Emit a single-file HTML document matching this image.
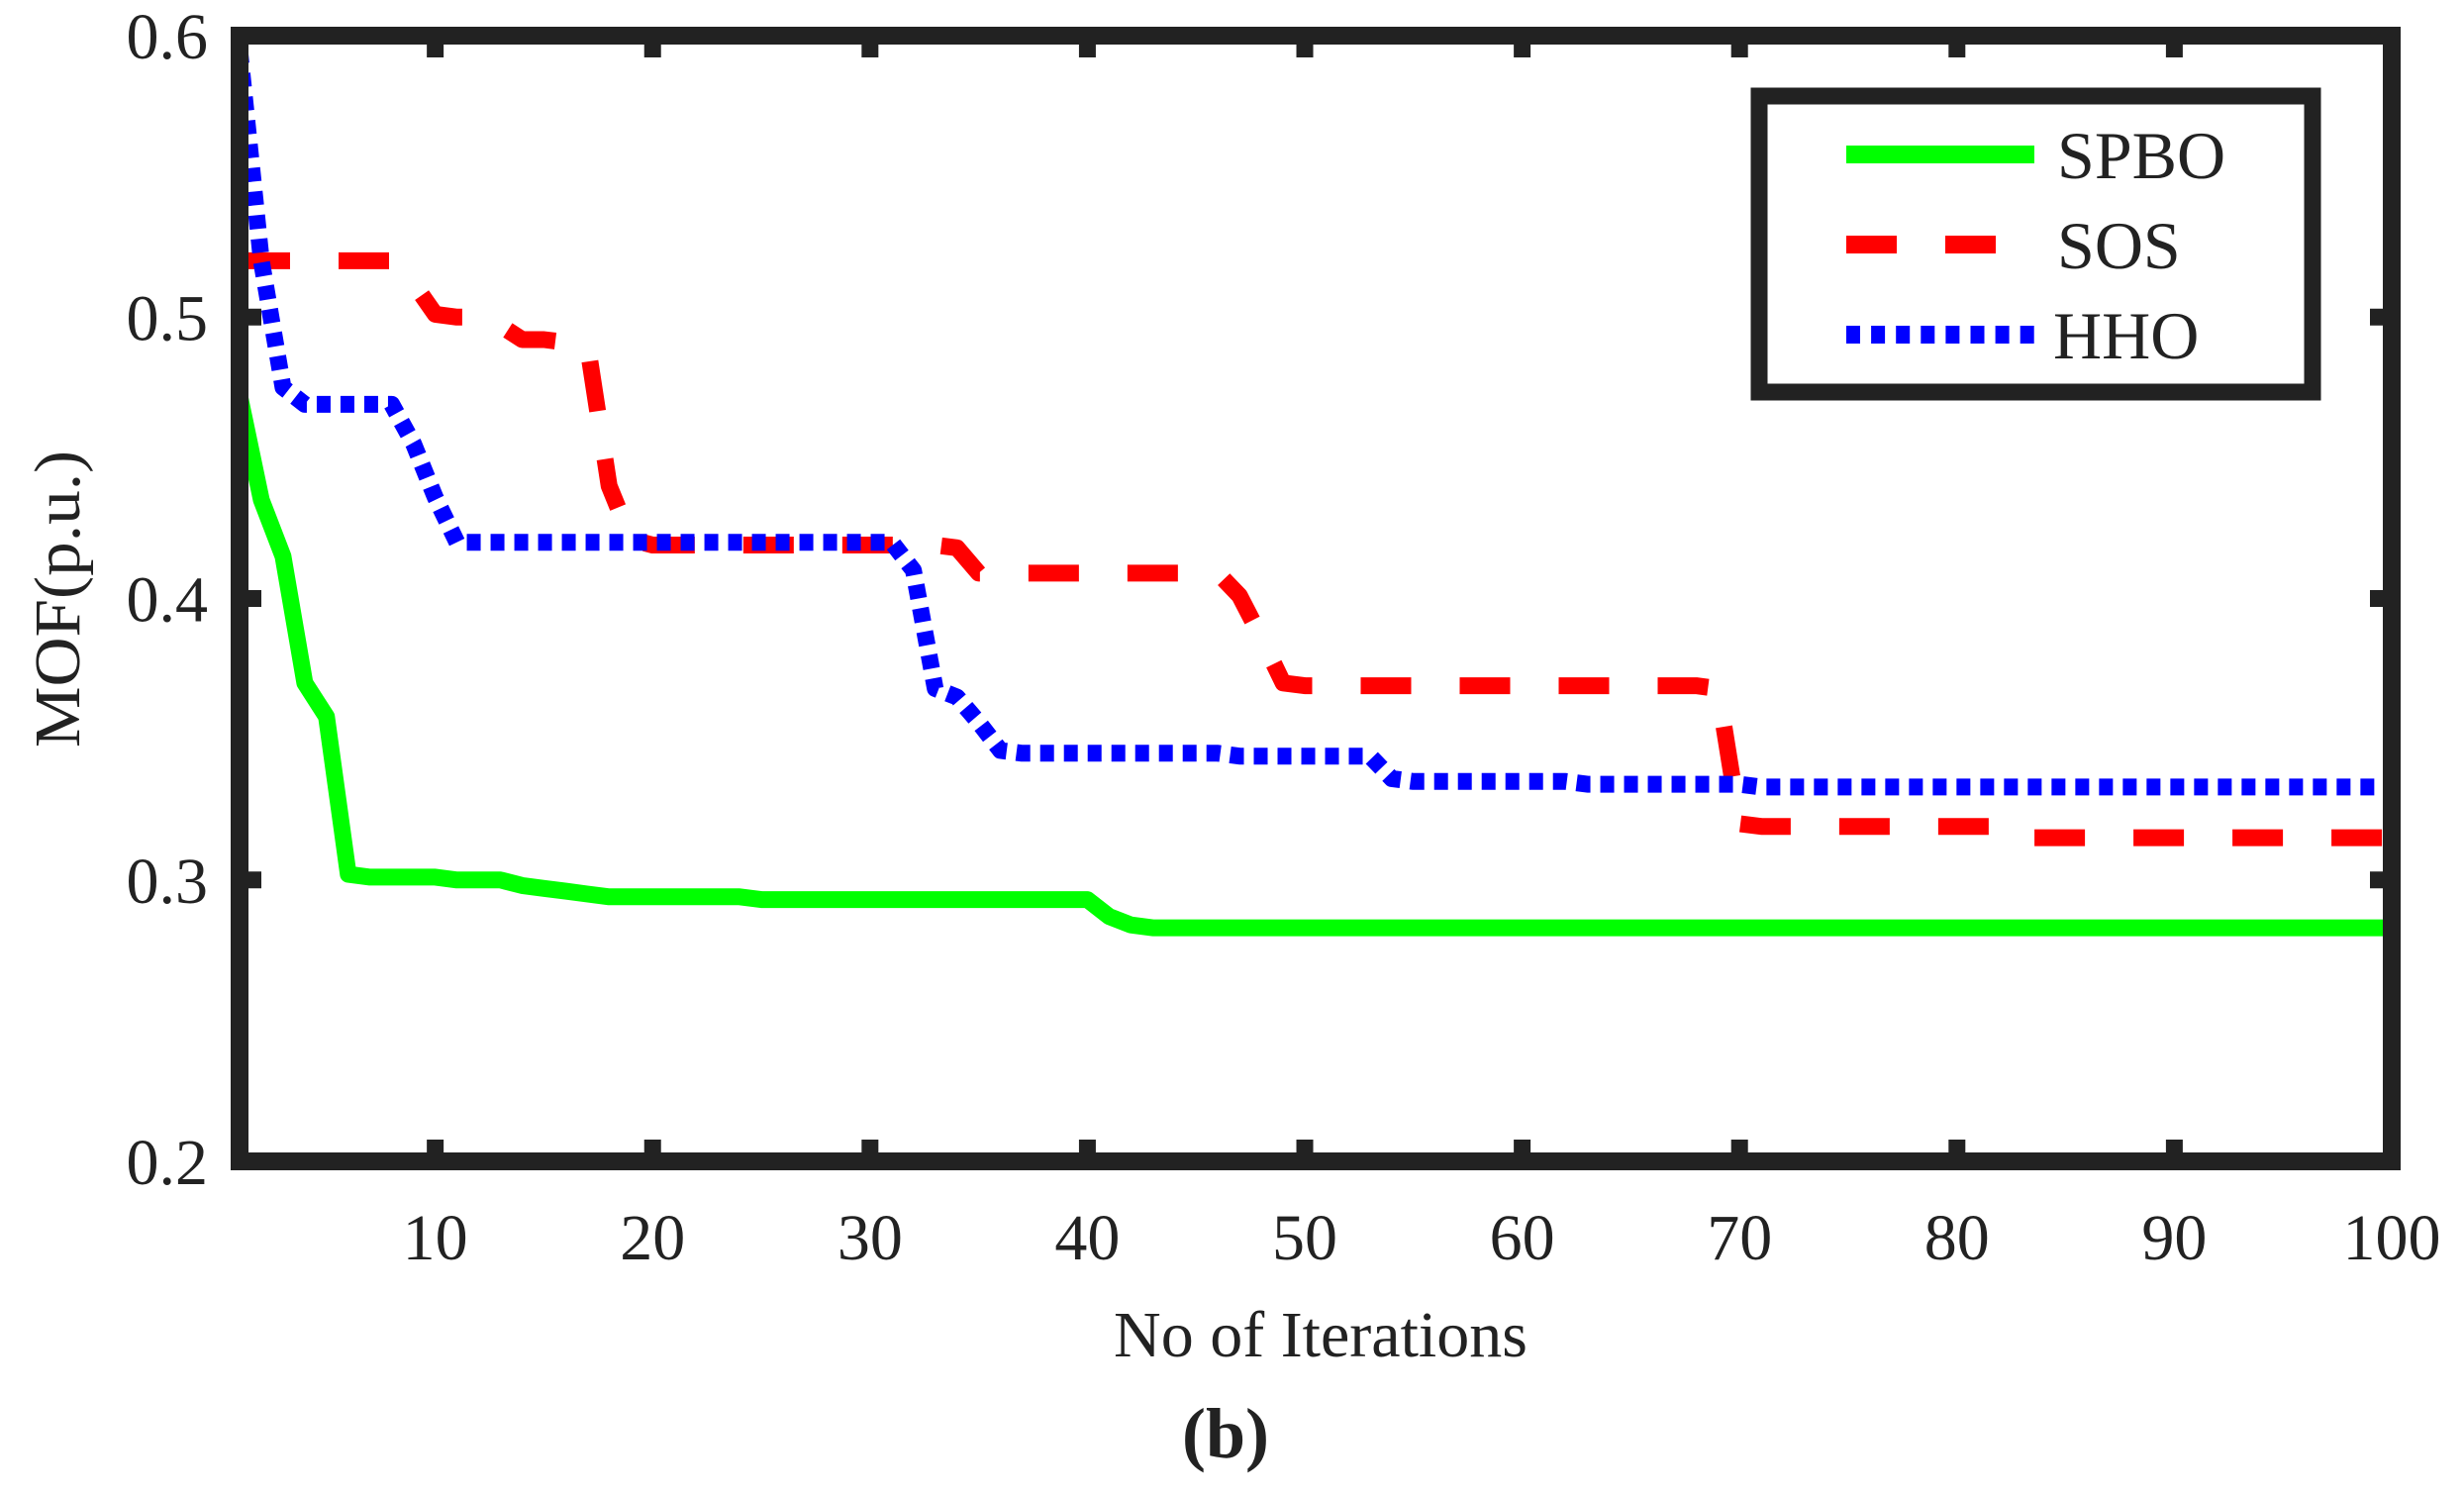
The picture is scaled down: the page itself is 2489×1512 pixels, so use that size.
<!DOCTYPE html>
<html><head><meta charset="utf-8">
<style>
html,body{margin:0;padding:0;background:#fff;}
svg{display:block;}
text{font-family:"Liberation Serif",serif;fill:#222;}
</style></head>
<body>
<svg id="chart" width="2489" height="1512" viewBox="0 0 2489 1512" xmlns="http://www.w3.org/2000/svg">
<g id="series"></g>
<rect x="242" y="36" width="2174" height="1137" fill="none" stroke="#222" stroke-width="18"/>
<g id="ticks"></g>
<text transform="translate(80,605) rotate(-90) scale(1.05,1)" text-anchor="middle" font-size="66">MOF(p.u.)</text>
<text x="1334" y="1370" text-anchor="middle" font-size="66">No of Iterations</text>
<text x="1238" y="1472" text-anchor="middle" font-size="72" font-weight="bold">(b)</text>
<g>
<rect x="1777" y="97" width="559" height="299" fill="#fff" stroke="#222" stroke-width="17"/>
<line x1="1865" y1="156" x2="2055" y2="156" stroke="#00ff00" stroke-width="18"/>
<text x="2078" y="180" font-size="68">SPBO</text>
<line x1="1865" y1="247" x2="2017" y2="247" stroke="#ff0000" stroke-width="18" stroke-dasharray="51 49"/>
<text x="2078" y="271" font-size="68">SOS</text>
<line x1="1865" y1="338" x2="2055" y2="338" stroke="#0000ff" stroke-width="18" stroke-dasharray="14 11.1"/>
<text x="2074" y="362" font-size="68">HHO</text>
</g>
</svg>
<script>
const iterations = Array.from({length:100},(_,i)=>i+1);
const spbo = [0.472,0.435,0.415,0.370,0.358,0.302,0.301,0.301,0.301,0.301,0.300,0.300,0.300,0.298,0.297,0.296,0.295,0.294,0.294,0.294,0.294,0.294,0.294,0.294,0.293,0.293,0.293,0.293,0.293,0.293,0.293,0.293,0.293,0.293,0.293,0.293,0.293,0.293,0.293,0.293,0.287,0.284,0.283,0.283,0.283,0.283,0.283,0.283,0.283,0.283,
0.283,0.283,0.283,0.283,0.283,0.283,0.283,0.283,0.283,0.283,0.283,0.283,0.283,0.283,0.283,0.283,0.283,0.283,0.283,0.283,0.283,0.283,0.283,0.283,0.283,0.283,0.283,0.283,0.283,0.283,0.283,0.283,0.283,0.283,0.283,0.283,0.283,0.283,0.283,0.283,0.283,0.283,0.283,0.283,0.283,0.283,0.283,0.283,0.283,0.283];
const sos = [0.520,0.520,0.520,0.520,0.520,0.520,0.520,0.520,0.512,0.501,0.500,0.500,0.497,0.492,0.492,0.491,0.490,0.440,0.421,0.419,0.419,0.419,0.419,0.419,0.419,0.419,0.419,0.419,0.419,0.419,0.419,0.419,0.419,0.418,0.409,0.409,0.409,0.409,0.409,0.409,0.409,0.409,0.409,0.409,0.409,0.409,0.401,0.386,0.370,0.369,
0.369,0.369,0.369,0.369,0.369,0.369,0.369,0.369,0.369,0.369,0.369,0.369,0.369,0.369,0.369,0.369,0.369,0.369,0.368,0.320,0.319,0.319,0.319,0.319,0.319,0.319,0.319,0.319,0.319,0.319,0.319,0.319,0.315,0.315,0.315,0.315,0.315,0.315,0.315,0.315,0.315,0.315,0.315,0.315,0.315,0.315,0.315,0.315,0.315,0.315];
const hho = [0.595,0.520,0.475,0.469,0.469,0.469,0.469,0.469,0.455,0.436,0.420,0.420,0.420,0.420,0.420,0.420,0.420,0.420,0.420,0.420,0.420,0.420,0.420,0.420,0.420,0.420,0.420,0.420,0.420,0.420,0.420,0.410,0.368,0.365,0.356,0.346,0.345,0.345,0.345,0.345,0.345,0.345,0.345,0.345,0.345,0.345,0.344,0.344,0.344,0.344,0.344,0.344,0.344,0.336,0.335,0.335,0.335,0.335,0.335,0.335,0.335,0.335,0.334,0.334,0.334,0.334,0.334,0.334,0.334,0.334,
0.333,0.333,0.333,0.333,0.333,0.333,0.333,0.333,0.333,0.333,0.333,0.333,0.333,0.333,0.333,0.333,0.333,0.333,0.333,0.333,0.333,0.333,0.333,0.333,0.333,0.333,0.333,0.333,0.333,0.333];
const xTicks = [10,20,30,40,50,60,70,80,90,100];
const yTicks = [0.2,0.3,0.4,0.5,0.6];
const yTickLabels = ["0.2","0.3","0.4","0.5","0.6"];

const X0=242,X1=2416,Y0=1173,Y1=36;
const xs = v => X0 + (v-1)/(100-1)*(X1-X0);
const ys = v => Y0 - (v-0.2)/(0.6-0.2)*(Y0-Y1);
const NS='http://www.w3.org/2000/svg';
const sg=document.getElementById('series');
function line(vals,color,dash,name){
  const p=document.createElementNS(NS,'path');
  p.setAttribute('d',vals.map((v,i)=>(i?'L':'M')+xs(iterations[i]).toFixed(1)+' '+ys(v).toFixed(1)).join(''));
  p.setAttribute('fill','none');p.setAttribute('stroke',color);p.setAttribute('stroke-width','17');
  p.setAttribute('stroke-linejoin','round');
  if(dash)p.setAttribute('stroke-dasharray',dash);
  
  
  sg.appendChild(p);
}
line(sos,'#ff0000','51 49','series-sos');
line(hho,'#0000ff','14 10','series-hho');
line(spbo,'#00ff00',null,'series-spbo');

const tg=document.getElementById('ticks');
xTicks.forEach(t=>{
  const x=xs(t);
  const l=document.createElementNS(NS,'line');
  l.setAttribute('x1',x);l.setAttribute('x2',x);l.setAttribute('y1',Y0);l.setAttribute('y2',Y0-22);
  l.setAttribute('stroke','#222');l.setAttribute('stroke-width','17');
  
  
  tg.appendChild(l);
  const l2=l.cloneNode();l2.setAttribute('y1',Y1);l2.setAttribute('y2',Y1+22);
  
  
  tg.appendChild(l2);
  const tx=document.createElementNS(NS,'text');
  tx.setAttribute('x',x);tx.setAttribute('y',1272);tx.setAttribute('text-anchor','middle');tx.setAttribute('font-size','66');
  tx.textContent=String(t);
  
  
  tg.appendChild(tx);
});
yTicks.forEach((t,i)=>{
  const y=ys(t);
  const l=document.createElementNS(NS,'line');
  l.setAttribute('x1',X0);l.setAttribute('x2',X0+22);l.setAttribute('y1',y);l.setAttribute('y2',y);
  l.setAttribute('stroke','#222');l.setAttribute('stroke-width','17');
  
  
  tg.appendChild(l);
  const l2=l.cloneNode();l2.setAttribute('x1',X1);l2.setAttribute('x2',X1-22);
  
  
  tg.appendChild(l2);
  const tx=document.createElementNS(NS,'text');
  tx.setAttribute('x',210);tx.setAttribute('y',y+23);tx.setAttribute('text-anchor','end');tx.setAttribute('font-size','66');
  tx.textContent=yTickLabels[i];
  
  
  tg.appendChild(tx);
});
</script>
</body></html>
